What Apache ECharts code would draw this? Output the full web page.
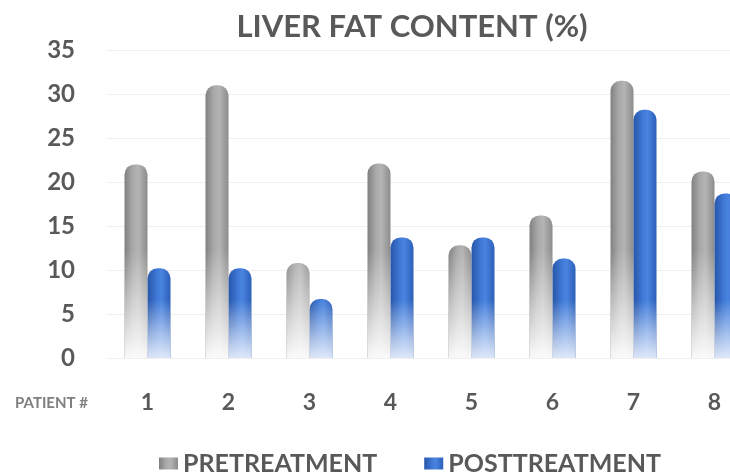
<!DOCTYPE html>
<html>
<head>
<meta charset="utf-8">
<script src="https://cdn.jsdelivr.net/npm/echarts@6/dist/echarts.min.js"></script>
<style>
html,body{margin:0;padding:0;background:#fff;overflow:hidden;width:730px;height:472px;}
#chart{width:770px;height:472px;}
</style>
</head>
<body>
<div id="chart"></div>
<script>
var categories = ['1','2','3','4','5','6','7','8'];
var pretreatment = [22, 31, 10.8, 22.1, 12.8, 16.2, 31.5, 21.2];
var posttreatment = [10.2, 10.2, 6.7, 13.7, 13.7, 11.3, 28.2, 18.7];
var yTicks = [0, 35, 5];

var chart = echarts.init(document.getElementById('chart'));
var G = echarts.graphic.LinearGradient;
var grayFill = new G(0,0,1,0,[
  {offset:0,color:'#808080'},{offset:0.35,color:'#a8a8a8'},{offset:0.6,color:'#b4b4b4'},{offset:1,color:'#8c8c8c'}
]);
var blueFill = new G(0,0,1,0,[
  {offset:0,color:'#2756a8'},{offset:0.4,color:'#3f78d6'},{offset:0.6,color:'#4a84e0'},{offset:1,color:'#2c5fb8'}
]);
var grayFade = new G(0,250,0,358,[
  {offset:0,color:'rgba(255,255,255,0)'},{offset:1,color:'rgba(255,255,255,0.95)'}
], true);
var blueFade = new G(0,300,0,358,[
  {offset:0,color:'rgba(255,255,255,0)'},{offset:1,color:'rgba(235,241,252,0.92)'}
], true);
var FONT = 'Lato';
var option = {
  animation:false,
  backgroundColor:'#fff',
  title:{text:'LIVER FAT CONTENT (%)', left:407, top:6, textAlign:'center',
    textStyle:{fontFamily:FONT, fontWeight:'bold', fontSize:31, color:'#595959'}},
  legend:{
    data:[{name:'PRETREATMENT', itemStyle:{color:grayFill}},{name:'POSTTREATMENT', itemStyle:{color:blueFill}}],
    top:446, left:154, itemWidth:19, itemHeight:12, itemGap:47, icon:'rect',
    textStyle:{fontFamily:FONT, fontWeight:'bold', fontSize:25, color:'#595959'}
  },
  grid:{left:107, top:50, width:648, height:308, containLabel:false},
  xAxis:[
    {type:'category', data:categories, axisLine:{show:false}, axisTick:{show:false},
     axisLabel:{fontFamily:FONT, fontWeight:'bold', fontSize:23, color:'#595959', margin:33}},
    {type:'category', data:categories, show:false}
  ],
  yAxis:{type:'value', min:yTicks[0], max:yTicks[1], interval:yTicks[2],
    axisLine:{show:false}, axisTick:{show:false},
    axisLabel:{fontFamily:FONT, fontWeight:'bold', fontSize:24, color:'#595959', margin:32},
    splitLine:{lineStyle:{color:'#efefef', width:1}}},
  series:[
    {name:'PRETREATMENT', type:'bar', xAxisIndex:0, data:pretreatment, barWidth:23, barGap:'0%',
     itemStyle:{color:grayFill, borderRadius:[10,10,0,0]}},
    {name:'POSTTREATMENT', type:'bar', xAxisIndex:0, data:posttreatment, barWidth:23, barGap:'0%',
     itemStyle:{color:blueFill, borderRadius:[10,10,0,0]}},
    {name:'preFade', type:'bar', xAxisIndex:1, data:pretreatment, barWidth:23, barGap:'0%', silent:true,
     itemStyle:{color:grayFade, borderRadius:[10,10,0,0]}},
    {name:'postFade', type:'bar', xAxisIndex:1, data:posttreatment, barWidth:23, barGap:'0%', silent:true,
     itemStyle:{color:blueFade, borderRadius:[10,10,0,0]}}
  ],
  graphic:[
    {type:'text', left:15, top:396, style:{text:'PATIENT #', fontFamily:FONT, fontWeight:'bold', fontSize:15, fill:'#7f7f7f'}}
  ]
};
chart.setOption(option);
</script>
</body>
</html>
